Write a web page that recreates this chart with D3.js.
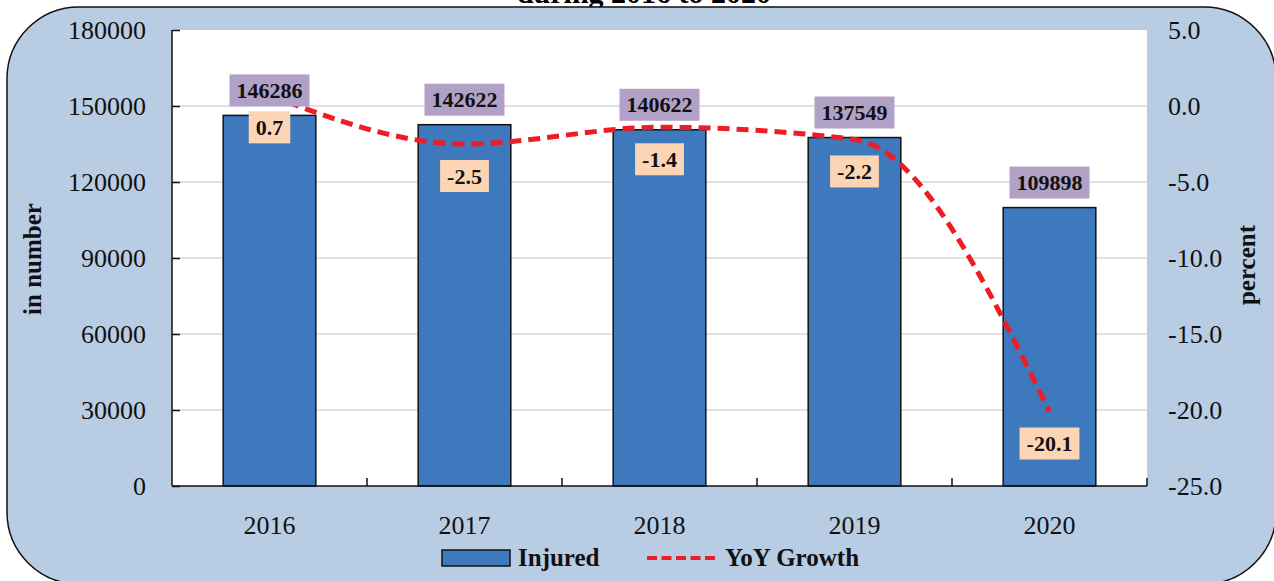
<!DOCTYPE html>
<html>
<head>
  <script src="https://cdn.jsdelivr.net/npm/d3@7"></script>
  <style>
    body { margin: 0; background: #fff; }
    text { font-family: "Liberation Serif", "Times New Roman", serif; }
  </style>
</head>
<body>
  <svg id="chart" width="1274" height="581"></svg>
  <script>
    var years = ['2016', '2017', '2018', '2019', '2020'];
    var injured = [146286, 142622, 140622, 137549, 109898];
    var yoy = [0.7, -2.5, -1.4, -2.2, -20.1];
    var leftTicks = [0, 30000, 60000, 90000, 120000, 150000, 180000];
    var rightTicks = [-25, -20, -15, -10, -5, 0, 5];

    var svg = d3.select('#chart');
    var plotL = 172, plotR = 1147, plotT = 30, plotB = 486;

    // title line that is cut off at the top of the frame
    svg.append('text')
      .attr('x', 644).attr('y', 3)
      .attr('text-anchor', 'middle')
      .style('font-weight', 'bold').style('font-size', '30px')
      .text('during 2016 to 2020');

    svg.append('rect')
      .attr('x', 7).attr('y', 7).attr('width', 1269).attr('height', 577)
      .attr('rx', 72).attr('ry', 72)
      .style('fill', '#b8cce4').style('stroke', '#111').style('stroke-width', 1.5);

    svg.append('rect')
      .attr('x', plotL).attr('y', plotT)
      .attr('width', plotR - plotL).attr('height', plotB - plotT)
      .style('fill', '#fff');

    var x = d3.scaleBand().domain(years).range([plotL, plotR]);
    var yL = d3.scaleLinear().domain([0, 180000]).range([plotB, plotT]);
    var yR = d3.scaleLinear().domain([-25, 5]).range([plotB, plotT]);
    var barW = x.bandwidth() * 0.475;
    function cx(d) { return x(d) + x.bandwidth() / 2; }

    // gridlines
    svg.append('g').selectAll('line')
      .data(leftTicks.filter(function(t){ return t > 0 && t < 180000; }))
      .enter().append('line')
      .attr('x1', plotL).attr('x2', plotR)
      .attr('y1', function(d){ return yL(d); })
      .attr('y2', function(d){ return yL(d); })
      .style('stroke', '#d9d9d9').style('stroke-width', 1.5);

    // bars
    svg.append('g').selectAll('rect')
      .data(years)
      .enter().append('rect')
      .attr('x', function(d){ return cx(d) - barW / 2; })
      .attr('y', function(d, i){ return yL(injured[i]); })
      .attr('width', barW)
      .attr('height', function(d, i){ return plotB - yL(injured[i]); })
      .style('fill', '#3f79bd').style('stroke', '#111').style('stroke-width', 1.5);

    // left axis
    var axL = svg.append('g')
      .attr('transform', 'translate(' + plotL + ',0)')
      .call(d3.axisLeft(yL).tickValues(leftTicks).tickSize(-8).tickPadding(26)
        .tickFormat(function(d){ return String(d); }));
    axL.select('.domain').remove();
    axL.append('line').attr('x1', 0).attr('x2', 0).attr('y1', plotT).attr('y2', plotB)
      .style('stroke', '#111').style('stroke-width', 1.5);

    // right axis (labels only)
    var axR = svg.append('g')
      .attr('transform', 'translate(' + plotR + ',0)')
      .call(d3.axisRight(yR).tickValues(rightTicks).tickSize(0).tickPadding(21)
        .tickFormat(function(d){ return d.toFixed(1); }));
    axR.select('.domain').remove();

    [axL, axR].forEach(function(a){
      a.selectAll('text').style('font-size', '26px').style('fill', '#111')
        .style('font-family', '"Liberation Serif", "Times New Roman", serif');
      a.selectAll('.tick line').style('stroke', '#111').style('stroke-width', 1.5);
    });

    // x axis with ticks between categories
    var xa = svg.append('g');
    xa.append('line').attr('x1', plotL).attr('x2', plotR).attr('y1', plotB).attr('y2', plotB)
      .style('stroke', '#111').style('stroke-width', 1.5);
    xa.selectAll('line.tk')
      .data(years.slice(1).concat(['end']))
      .enter().append('line').attr('class', 'tk')
      .attr('x1', function(d){ return d === 'end' ? plotR : x(d); })
      .attr('x2', function(d){ return d === 'end' ? plotR : x(d); })
      .attr('y1', plotB).attr('y2', plotB - 8)
      .style('stroke', '#111').style('stroke-width', 1.5);
    xa.selectAll('text')
      .data(years)
      .enter().append('text')
      .attr('x', cx).attr('y', 534)
      .attr('text-anchor', 'middle')
      .style('font-size', '26px').style('fill', '#111')
      .text(function(d){ return d; });

    // growth line
    var line = d3.line()
      .x(function(d, i){ return cx(years[i]); })
      .y(function(d){ return yR(d); })
      .curve(d3.curveMonotoneX);
    svg.append('path')
      .datum(yoy)
      .attr('d', line)
      .style('fill', 'none').style('stroke', '#ee1c24')
      .style('stroke-width', 5).style('stroke-dasharray', '12,7');

    // label boxes
    function boxLabel(g, tx, ty, txt, fill) {
      var t = g.append('text')
        .attr('x', tx).attr('y', ty + 7.5)
        .attr('text-anchor', 'middle')
        .style('font-size', '22px').style('font-weight', 'bold').style('fill', '#111')
        .text(txt);
      var w = t.node().getComputedTextLength() + 14;
      g.insert('rect', 'text')
        .attr('x', tx - w / 2).attr('y', ty - 16)
        .attr('width', w).attr('height', 32)
        .style('fill', fill);
    }
    years.forEach(function(d, i){
      boxLabel(svg.append('g'), cx(d), yL(injured[i]) - 25, String(injured[i]), '#b2a1c7');
      boxLabel(svg.append('g'), cx(d), yR(yoy[i]) + 32, yoy[i].toFixed(1), '#fcd5b5');
    });

    // axis titles
    svg.append('text')
      .attr('transform', 'translate(41,259) rotate(-90)')
      .attr('text-anchor', 'middle')
      .style('font-size', '25px').style('font-weight', 'bold').style('fill', '#111')
      .text('in number');
    svg.append('text')
      .attr('transform', 'translate(1255,265) rotate(-90)')
      .attr('text-anchor', 'middle')
      .style('font-size', '25px').style('font-weight', 'bold').style('fill', '#111')
      .text('percent');

    // legend
    var lg = svg.append('g');
    lg.append('rect').attr('x', 442).attr('y', 550).attr('width', 68).attr('height', 16)
      .style('fill', '#3f79bd').style('stroke', '#111').style('stroke-width', 1.5);
    lg.append('text').attr('x', 518).attr('y', 566)
      .style('font-size', '25px').style('font-weight', 'bold').style('fill', '#111')
      .text('Injured');
    lg.append('line').attr('x1', 647).attr('x2', 717).attr('y1', 558).attr('y2', 558)
      .style('stroke', '#ee1c24').style('stroke-width', 4).style('stroke-dasharray', '10,4.5');
    lg.append('text').attr('x', 725).attr('y', 566)
      .style('font-size', '25px').style('font-weight', 'bold').style('fill', '#111')
      .text('YoY Growth');
  </script>
</body>
</html>
